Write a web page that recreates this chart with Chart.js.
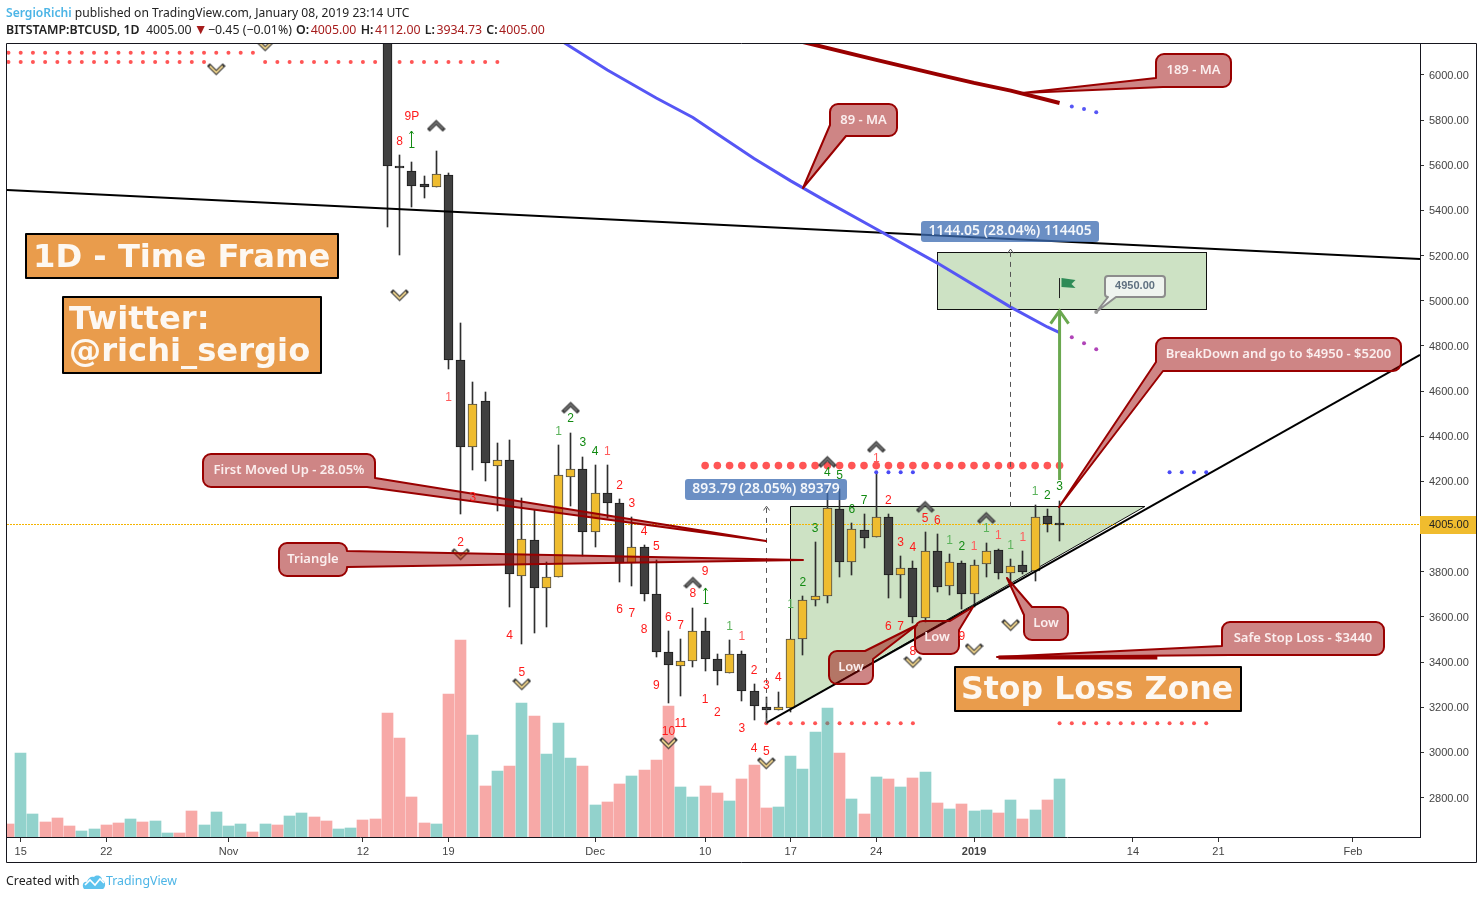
<!DOCTYPE html>
<html>
<head>
<meta charset="utf-8">
<title>BTCUSD 1D</title>
<script src="https://cdn.jsdelivr.net/npm/chart.js@4/dist/chart.umd.min.js"></script>
<style>
    html, body { margin: 0; padding: 0; background: #fff; }
    body { width: 1483px; height: 899px; position: relative; overflow: hidden; }
    canvas { position: absolute; left: 0; top: 0; }
    .txt { position: absolute; left: 6px; white-space: nowrap; font-family: "Noto Sans", sans-serif; font-size: 12.1px; color: #222; line-height: 16px; }
    .big { font-size: 12.35px; }
    .blue { color: #4db5e6; }
    .red { color: #a61c1c; }
    .tri { font-size: 14px; line-height: 12px; margin-left: -1px; margin-right: -3px; }
    .ohlc b { padding-right: 1.5px; margin-left: 1px; }
    b { font-weight: 600; }
</style>
</head>
<body>
<canvas id="myChart" width="1483" height="899"></canvas>
<div class="txt" style="top:5px"><b class="blue">SergioRichi</b> published on TradingView.com, January 08, 2019 23:14 UTC</div>
<div class="txt big" style="top:22px"><b>BITSTAMP:BTCUSD, 1D</b>&nbsp; 4005.00 <span class="red tri">▼</span> −0.45 (−0.01%) <span class="ohlc"><b>O:</b><span class="red">4005.00</span> <b>H:</b><span class="red">4112.00</span> <b>L:</b><span class="red">3934.73</span> <b>C:</b><span class="red">4005.00</span></span></div>
<div class="txt big" style="top:873px">Created with</div>
<svg style="position:absolute;left:82px;top:873px" width="24" height="17" viewBox="0 0 24 17">
    <path d="M2 16 C-1 12 2 8 5 9 C6 5 9 3 12 4 C15 1 20 3 20 7 C24 8 24 14 21 16 Z" fill="#5ec3ee"/>
    <path d="M3 12 L8 7 L13 12 L18 6 L22 10" fill="none" stroke="#fff" stroke-width="1.6"/>
</svg>
<div class="txt big blue" style="left:106px;top:873px">TradingView</div>
<script>
// days are counted from Oct 15 2018, prices in USD
const xTickDays = [0, 7, 17, 28, 35, 47, 56, 63, 70, 78, 91, 98, 109];
const xTickLabels = ['15', '22', 'Nov', '12', '19', 'Dec', '10', '17', '24', '2019', '14', '21', 'Feb'];
const yTicks = [2800, 3000, 3200, 3400, 3600, 3800, 4000, 4200, 4400, 4600, 4800, 5000, 5200, 5400, 5600, 5800, 6000];

const candleDays = [30, 31, 32, 33, 34, 35, 36, 37, 38, 39, 40, 41, 42, 43, 44, 45, 46, 47, 48, 49, 50, 51, 52, 53, 54, 55, 56, 57, 58, 59, 60, 61, 62, 63, 64, 65, 66, 67, 68, 69, 70, 71, 72, 73, 74, 75, 76, 77, 78, 79, 80, 81, 82, 83, 84, 85];
const opens = [6300, 5597, 5573, 5517, 5505, 5556, 4736, 4354, 4556, 4270, 4294, 3782, 3939, 3729, 3775, 4221, 4254, 3975, 4147, 4103, 3837, 3908, 3700, 3443, 3381, 3403, 3537, 3412, 3350, 3434, 3270, 3200, 3186, 3198, 3503, 3673, 3691, 4077, 3844, 3983, 3953, 4041, 3784, 3815, 3594, 3890, 3735, 3837, 3700, 3833, 3895, 3793, 3828, 3802, 4045, 4005];
const highs = [6350, 5646, 5615, 5553, 5663, 5567, 4902, 4640, 4596, 4370, 4383, 4127, 4073, 3842, 4361, 4414, 4308, 4273, 4273, 4122, 4041, 3917, 3851, 3537, 3502, 3639, 3595, 3434, 3498, 3448, 3301, 3247, 3266, 3501, 3693, 3932, 4175, 4166, 4015, 4056, 4243, 4056, 3870, 3848, 3976, 3967, 3877, 3846, 3851, 3926, 3901, 3855, 3890, 4096, 4078, 4112];
const lows = [5328, 5204, 5417, 5457, 5505, 4699, 4056, 4251, 4203, 4070, 3645, 3481, 3530, 3557, 3775, 4091, 3871, 3911, 4039, 3756, 3738, 3672, 3424, 3220, 3251, 3379, 3362, 3300, 3350, 3229, 3145, 3130, 3186, 3180, 3431, 3648, 3663, 3778, 3787, 3906, 3953, 3685, 3685, 3574, 3577, 3712, 3698, 3636, 3645, 3778, 3769, 3750, 3789, 3760, 3975, 3934.73];
const closes = [5598, 5588, 5510, 5505, 5560, 4739, 4354, 4543, 4280, 4294, 3791, 3944, 3729, 3775, 4227, 4254, 3975, 4147, 4106, 3840, 3908, 3700, 3443, 3386, 3403, 3537, 3412, 3359, 3434, 3270, 3204, 3186, 3200, 3501, 3673, 3691, 4081, 3844, 3988, 3948, 4041, 3784, 3815, 3598, 3890, 3731, 3842, 3700, 3828, 3890, 3793, 3824, 3797, 4044, 4010, 4005];

// volume has no axis on the chart, so the unit is arbitrary. first entry is day -1
const volumes = [13, 84, 23, 15, 19, 11, 6, 8, 12, 14, 18, 15, 16, 4, 4, 26, 12, 25, 11, 13, 5, 13, 12, 21, 24, 20, 16, 8, 9, 17, 18, 124, 99, 40, 14, 13, 143, 197, 102, 51, 66, 71, 134, 121, 83, 114, 79, 71, 32, 35, 53, 61, 67, 77, 131, 50, 40, 51, 44, 36, 58, 72, 29, 30, 81, 68, 105, 129, 84, 38, 23, 60, 58, 50, 59, 65, 34, 28, 33, 26, 27, 24, 37, 18, 27, 37, 58];
const volumeUp = [0, 1, 1, 0, 0, 0, 1, 1, 0, 0, 1, 0, 1, 1, 0, 0, 1, 1, 1, 1, 0, 1, 0, 1, 1, 0, 0, 1, 1, 0, 0, 0, 0, 0, 0, 1, 0, 0, 1, 0, 1, 0, 1, 0, 1, 1, 1, 0, 1, 0, 0, 1, 0, 0, 0, 1, 1, 0, 0, 1, 0, 0, 0, 1, 1, 1, 1, 1, 0, 1, 0, 1, 0, 1, 0, 1, 0, 1, 0, 1, 1, 0, 1, 0, 1, 0, 1];

const ma89Days = [44, 48, 50, 52, 55, 57, 60, 63, 66, 70, 75, 81, 84, 85];
const ma89 = [6159, 6022, 5960, 5898, 5812, 5739, 5630, 5531, 5438, 5318, 5167, 4972, 4884, 4859];
const ma189Days = [64, 70, 75, 78, 81, 85];
const ma189 = [6146, 6067, 6003, 5965, 5931, 5876];
const ma189NextDays = [86, 87, 88];
const ma189Next = [5860, 5849, 5835];
const ma89NextDays = [86, 87, 88];
const ma89Next = [4838, 4812, 4785];

const resistanceDays = [-1.12, 114.49];
const resistance = [5491, 5185];
const supportDays = [61, 114.49];
const support = [3130, 4760];
const stopDays = [80, 93];
const stop = [3420, 3420];

const dotsTopDays = [-1, 0, 1, 2, 3, 4, 5, 6, 7, 8, 9, 10, 11, 12, 13, 14, 15, 16, 17, 18, 19];
const dotsSecondDays = [-1, 0, 1, 2, 3, 4, 5, 6, 7, 8, 9, 10, 11, 12, 13, 14, 15, 20, 21, 22, 23, 24, 25, 26, 27, 28, 29, 31, 32, 33, 34, 35, 36, 37, 38, 39];
const dotsLowDays = [61, 62, 63, 64, 65, 66, 67, 68, 69, 70, 71, 72, 73, 85, 86, 87, 88, 89, 90, 91, 92, 93, 94, 95, 96, 97];
const dotsBigDays = [56, 57, 58, 59, 60, 61, 62, 63, 64, 65, 66, 67, 68, 69, 70, 71, 72, 73, 74, 75, 76, 77, 78, 79, 80, 81, 82, 83, 84, 85];
const dotsBlueDays = [70, 71, 72, 73, 94, 95, 96, 97];

const chevronUpDays = [34, 45, 55, 66, 70, 74, 79];
const chevronUp = [5779, 4530, 3755, 4290, 4357, 4091, 4042];
const chevronDownDays = [16, 20, 31, 36, 41, 53, 61, 73, 78, 81];
const chevronDown = [6022, 6128, 5021, 3874, 3298, 3037, 2948, 3396, 3453, 3560];

// day, price, text, kind
const tdLabels = [
    [32, 5814, '9P', 'sell'], [31, 5703, '8', 'sell'], [35, 4569, '1', 'sellPale'], [37, 4127, '3', 'sell'],
    [36, 3927, '2', 'sell'], [40, 3515, '4', 'sell'], [41, 3351, '5', 'sell'],
    [44, 4419, '1', 'buyPale'], [45, 4476, '2', 'buy'], [46, 4370, '3', 'buy'], [47, 4330, '4', 'buy'],
    [48, 4330, '1', 'sellPale'], [49, 4180, '2', 'sell'], [50, 4100, '3', 'sell'], [51, 3976, '4', 'sell'], [52, 3910, '5', 'sell'],
    [49, 3630, '6', 'sell'], [50, 3613, '7', 'sell'], [51, 3542, '8', 'sell'], [52, 3294, '9', 'sell'],
    [53, 3090, '10', 'sell'], [54, 3126, '11', 'sell'], [53, 3595, '6', 'sell'], [54, 3560, '7', 'sell'],
    [55, 3701, '8', 'sell'], [56, 3799, '9', 'sell'], [56, 3232, '1', 'sell'], [57, 3174, '2', 'sell'],
    [59, 3103, '3', 'sell'], [60, 3015, '4', 'sell'], [61, 3002, '5', 'sell'], [58, 3555, '1', 'buyPale'],
    [59, 3511, '1', 'sellPale'], [60, 3360, '2', 'sell'], [61, 3294, '3', 'sell'], [62, 3329, '4', 'sell'],
    [63, 3653, '1', 'buyPale'], [64, 3750, '2', 'buy'], [65, 3989, '3', 'buy'], [66, 4237, '4', 'buy'],
    [67, 4224, '5', 'buy'], [68, 4073, '6', 'buy'], [69, 4113, '7', 'buy'], [70, 4299, '1', 'sellPale'],
    [71, 4113, '2', 'sell'], [72, 3927, '3', 'sell'], [73, 3905, '4', 'sell'], [74, 4034, '5', 'sell'],
    [75, 4025, '6', 'sell'], [76, 3936, '1', 'buyPale'], [77, 3910, '2', 'buy'], [78, 3910, '1', 'sellPale'],
    [79, 3989, '1', 'buyPale'], [80, 3958, '1', 'sellPale'], [81, 3914, '1', 'buyPale'], [82, 3949, '1', 'sellPale'],
    [83, 4153, '1', 'buyPale'], [84, 4135, '2', 'buy'], [85, 4175, '3', 'buy'],
    [71, 3555, '6', 'sell'], [72, 3555, '7', 'sell'], [73, 3444, '8', 'sell'], [77, 3511, '9', 'sell']
];
const tdColors = { sell: '#ff1a1a', sellPale: '#ff5c5c', buy: '#128a12', buyPale: '#5cb35c' };

// day, bottom price, top price
const smallArrows = [[32, 5681, 5752], [56, 3661, 3728]];

// callout boxes sit where they were placed on the page, tips point at the chart
const callouts = [
    { text: '189 - MA', box: [1156, 54, 1231, 87], edge: 'bl', from: [1163, 87], to: [1156, 78], tip: [1022, 93] },
    { text: '89 - MA', box: [830, 104, 897, 136], edge: 'bl', from: [846, 136], to: [830, 125], tip: [803, 188] },
    { text: 'First Moved Up - 28.05%', box: [203, 454, 375, 487], edge: 'br', from: [375, 478], to: [367, 487], tip: [766, 541] },
    { text: 'Triangle', box: [279, 543, 347, 576], edge: 'right', from: [347, 551], to: [347, 567], tip: [803, 560] },
    { text: 'BreakDown and go to $4950 - $5200', box: [1156, 338, 1401, 371], edge: 'bl', from: [1163, 371], to: [1156, 362], tip: [1059, 507] },
    { text: 'Safe Stop Loss - $3440', box: [1222, 622, 1384, 655], edge: 'bl', from: [1230, 655], to: [1222, 646], tip: [997, 657] },
    { text: 'Low', box: [829, 651, 873, 684], edge: 'tr', from: [865, 651], to: [873, 659], tip: [917, 625] },
    { text: 'Low', box: [915, 621, 959, 654], edge: 'tr', from: [950, 621], to: [959, 630], tip: [973, 607] },
    { text: 'Low', box: [1024, 607, 1068, 640], edge: 'tl', from: [1024, 615], to: [1032, 607], tip: [1007, 578] }
];

function makeChevron(up) {
    const c = document.createElement('canvas');
    c.width = 19;
    c.height = 15;
    const g = c.getContext('2d');
    const path = up ? [[3, 11.5], [9.5, 5], [16, 11.5]] : [[3, 3.5], [9.5, 10], [16, 3.5]];
    [[up ? '#3a3a3a' : '#2e2e2e', 4], [up ? '#6e6e6e' : '#f6da90', 1.8]].forEach(([color, w], k) => {
        g.beginPath();
        path.forEach((p, i) => i ? g.lineTo(p[0], p[1]) : g.moveTo(p[0], p[1]));
        g.strokeStyle = color;
        g.lineWidth = w;
        g.lineJoin = 'miter';
        g.lineCap = k ? 'butt' : 'square';
        g.stroke();
    });
    return c;
}

function points(days, values) {
    return days.map((d, i) => ({ x: d, y: values[i] }));
}
function level(days, price) {
    return days.map(d => ({ x: d, y: price }));
}
function lineSet(data, color, width, order) {
    return { type: 'line', data: data, borderColor: color, borderWidth: width, pointRadius: 0, tension: 0, order: order, yAxisID: 'y' };
}
function dotSet(data, color, radius, order) {
    return { type: 'line', data: data, showLine: false, pointRadius: radius, pointBackgroundColor: color, pointBorderWidth: 0, order: order, yAxisID: 'y' };
}
function markSet(data, image, order) {
    return { type: 'line', data: data, showLine: false, pointStyle: image, pointRadius: 8, order: order, yAxisID: 'y' };
}

const isUp = candleDays.map((d, i) => closes[i] > opens[i]);

const datasets = [
    dotSet(level(dotsTopDays, 6099), '#ff5555', 2, 60),
    dotSet(level(dotsSecondDays, 6058), '#ff5555', 2, 60),
    dotSet(level(dotsLowDays, 3129), '#ff5555', 2, 60),
    {
        type: 'bar', yAxisID: 'vol', order: 50,
        data: volumes.map((v, i) => ({ x: i - 1, y: v })),
        backgroundColor: volumeUp.map(u => u ? 'rgba(38,166,154,0.5)' : 'rgba(239,83,80,0.5)'),
        grouped: false, barPercentage: 1, categoryPercentage: 1, maxBarThickness: 11
    },
    {
        type: 'bar', yAxisID: 'y', order: 41,
        data: candleDays.map((d, i) => ({ x: d, y: [lows[i], highs[i]] })),
        backgroundColor: '#2e2e2e',
        grouped: false, barPercentage: 1, categoryPercentage: 1, maxBarThickness: 1
    },
    {
        type: 'bar', yAxisID: 'y', order: 40,
        data: candleDays.map((d, i) => ({ x: d, y: [opens[i], closes[i]] })),
        backgroundColor: isUp.map(u => u ? '#efbc2f' : '#404040'),
        borderColor: isUp.map(u => u ? '#4a4a4a' : '#1c1c1c'),
        borderWidth: 1, borderSkipped: false, minBarLength: 2,
        grouped: false, barPercentage: 1, categoryPercentage: 1, maxBarThickness: 9
    },
    lineSet(points(resistanceDays, resistance), '#000', 2, 30),
    lineSet(points(supportDays, support), '#000', 2, 30),
    lineSet(points(ma89Days, ma89), '#5656f5', 3, 29),
    lineSet(points(ma189Days, ma189), '#990000', 4, 29),
    lineSet(points(stopDays, stop), '#990000', 4, 29),
    dotSet(points(ma189NextDays, ma189Next), '#5656f5', 2, 28),
    dotSet(points(ma89NextDays, ma89Next), '#b044b8', 2, 28),
    dotSet(level(dotsBlueDays, 4240), '#4a4af5', 2, 28),
    dotSet(level(dotsBigDays, 4270), '#ff5555', 3.8, 28),
    markSet(points(chevronUpDays, chevronUp), makeChevron(true), 27),
    markSet(points(chevronDownDays, chevronDown), makeChevron(false), 27)
];

function roundRect(ctx, l, t, r, b, radius) {
    ctx.beginPath();
    ctx.moveTo(l + radius, t);
    ctx.arcTo(r, t, r, b, radius);
    ctx.arcTo(r, b, l, b, radius);
    ctx.arcTo(l, b, l, t, radius);
    ctx.arcTo(l, t, r, t, radius);
    ctx.closePath();
}

function calloutPath(ctx, c) {
    const [l, t, r, b] = c.box;
    const R = 8;
    const wedge = () => {
        ctx.lineTo(c.from[0], c.from[1]);
        ctx.lineTo(c.tip[0], c.tip[1]);
        ctx.lineTo(c.to[0], c.to[1]);
    };
    ctx.beginPath();
    ctx.moveTo(l + R, t);
    if (c.edge === 'tr') wedge(); else ctx.arcTo(r, t, r, t + R, R);
    if (c.edge === 'right') wedge();
    if (c.edge === 'br') wedge(); else ctx.arcTo(r, b, r - R, b, R);
    if (c.edge === 'bl') wedge(); else ctx.arcTo(l, b, l, b - R, R);
    if (c.edge === 'tl') wedge(); else ctx.arcTo(l, t, l + R, t, R);
    ctx.closePath();
}

function drawCallouts(ctx) {
    callouts.forEach(c => {
        calloutPath(ctx, c);
        ctx.fillStyle = 'rgba(153,0,0,0.48)';
        ctx.fill();
        ctx.strokeStyle = '#990000';
        ctx.lineWidth = 2;
        ctx.lineJoin = 'round';
        ctx.stroke();
        ctx.fillStyle = '#fbeeee';
        ctx.font = '600 13px "Noto Sans"';
        ctx.textAlign = 'center';
        ctx.textBaseline = 'middle';
        ctx.fillText(c.text, (c.box[0] + c.box[2]) / 2, (c.box[1] + c.box[3]) / 2);
    });
}

function drawOrangeBox(ctx, l, t, r, b, size, lines) {
    ctx.fillStyle = '#e99c4c';
    ctx.fillRect(l, t, r - l, b - t);
    ctx.strokeStyle = '#000';
    ctx.lineWidth = 2;
    ctx.strokeRect(l, t, r - l, b - t);
    ctx.fillStyle = '#fdf8f2';
    ctx.font = 'bold ' + size + 'px "DejaVu Sans"';
    ctx.textAlign = 'left';
    ctx.textBaseline = 'alphabetic';
    lines.forEach(line => ctx.fillText(line[0], line[1], line[2]));
}

function drawPill(ctx, l, t, r, b, text) {
    roundRect(ctx, l, t, r, b, 3);
    ctx.fillStyle = 'rgba(60,108,178,0.76)';
    ctx.fill();
    ctx.fillStyle = '#f4f7fb';
    ctx.font = '600 13.9px "Noto Sans"';
    ctx.textAlign = 'center';
    ctx.textBaseline = 'middle';
    ctx.fillText(text, (l + r) / 2, (t + b) / 2);
}

function upArrowHead(ctx, x, y, size) {
    ctx.beginPath();
    ctx.moveTo(x - size, y + size * 1.4);
    ctx.lineTo(x, y);
    ctx.lineTo(x + size, y + size * 1.4);
    ctx.stroke();
}

function crisp(v) {
    return Math.floor(v) + 0.5;
}

const pixelBars = {
    id: 'pixelBars',
    afterDatasetsUpdate(chart) {
        chart.getSortedVisibleDatasetMetas().forEach(meta => {
            if (meta.type !== 'bar') return;
            meta.data.forEach(bar => {
                bar.x = crisp(bar.x);
                bar.y = Math.round(bar.y);
                bar.base = Math.round(bar.base);
            });
        });
    }
};

const drawings = {
    id: 'drawings',
    beforeDatasetsDraw(chart) {
        const ctx = chart.ctx;
        const X = v => chart.scales.x.getPixelForValue(v);
        const Y = v => chart.scales.y.getPixelForValue(v);
        ctx.save();
        // target zone
        ctx.fillStyle = '#cde2c4';
        ctx.fillRect(X(75), Y(5212), X(97) - X(75), Y(4959) - Y(5212));
        ctx.strokeStyle = '#111';
        ctx.lineWidth = 1;
        ctx.strokeRect(crisp(X(75)), crisp(Y(5212)), Math.round(X(97) - X(75)), Math.round(Y(4959) - Y(5212)));
        // triangle
        ctx.beginPath();
        ctx.moveTo(crisp(X(62.95)), crisp(Y(4087)));
        ctx.lineTo(X(91.98), crisp(Y(4087)));
        ctx.lineTo(crisp(X(62.95)), Y(3190));
        ctx.closePath();
        ctx.fillStyle = '#cde2c4';
        ctx.fill();
        ctx.strokeStyle = '#111';
        ctx.stroke();
        // last price line
        ctx.strokeStyle = '#f5b400';
        ctx.setLineDash([2, 1]);
        ctx.beginPath();
        ctx.moveTo(chart.chartArea.left, Math.round(Y(4005)) - 0.5);
        ctx.lineTo(chart.chartArea.right, Math.round(Y(4005)) - 0.5);
        ctx.stroke();
        ctx.restore();
    },
    afterDatasetsDraw(chart) {
        const ctx = chart.ctx;
        const X = v => chart.scales.x.getPixelForValue(v);
        const Y = v => chart.scales.y.getPixelForValue(v);
        ctx.save();

        // measure lines
        [[81, 4087, 5229], [61, 3130, 4090]].forEach(([d, low, high]) => {
            ctx.strokeStyle = '#555';
            ctx.lineWidth = 1;
            ctx.setLineDash([5, 5]);
            ctx.beginPath();
            ctx.moveTo(crisp(X(d)), Y(low));
            ctx.lineTo(crisp(X(d)), Y(high));
            ctx.stroke();
            ctx.setLineDash([]);
            upArrowHead(ctx, crisp(X(d)), Y(high), 3);
        });

        // green projection arrow
        ctx.strokeStyle = '#6aa84f';
        ctx.lineWidth = 3;
        ctx.beginPath();
        ctx.moveTo(X(85), Y(4206));
        ctx.lineTo(X(85), Y(4955));
        ctx.stroke();
        upArrowHead(ctx, X(85), Y(4955), 9);

        // flag
        const fx = crisp(X(85));
        const fy = Y(5012);
        ctx.strokeStyle = '#222';
        ctx.lineWidth = 1;
        ctx.beginPath();
        ctx.moveTo(fx, fy);
        ctx.lineTo(fx, fy - 20);
        ctx.stroke();
        ctx.fillStyle = '#2e8b57';
        ctx.beginPath();
        ctx.moveTo(fx + 2, fy - 20);
        ctx.lineTo(fx + 16, fy - 18);
        ctx.lineTo(fx + 12, fy - 14);
        ctx.lineTo(fx + 16, fy - 10);
        ctx.lineTo(fx + 2, fy - 11);
        ctx.closePath();
        ctx.fill();

        // small arrows
        ctx.strokeStyle = '#128a12';
        ctx.lineWidth = 1;
        smallArrows.forEach(([d, low, high]) => {
            const x = crisp(X(d));
            ctx.beginPath();
            ctx.moveTo(x, Y(low));
            ctx.lineTo(x, Y(high));
            ctx.moveTo(x - 2, Math.round(Y(low)) + 0.5);
            ctx.lineTo(x + 3, Math.round(Y(low)) + 0.5);
            ctx.stroke();
            upArrowHead(ctx, x, Y(high), 2);
        });

        drawCallouts(ctx);

        // sequence numbers
        ctx.font = '12px "Liberation Sans"';
        ctx.textAlign = 'center';
        ctx.textBaseline = 'middle';
        tdLabels.forEach(([d, p, text, kind]) => {
            ctx.fillStyle = tdColors[kind];
            ctx.fillText(text, X(d), Y(p));
        });

        // measure labels
        drawPill(ctx, 921, 221, 1099, 242, '1144.05 (28.04%) 114405');
        drawPill(ctx, 685, 479, 847, 500, '893.79 (28.05%) 89379');

        // target price note
        const noteX = X(88);
        const noteY = Y(4950);
        ctx.beginPath();
        ctx.moveTo(1109, 276);
        ctx.lineTo(1162, 276);
        ctx.arcTo(1165, 276, 1165, 279, 3);
        ctx.lineTo(1165, 294);
        ctx.arcTo(1165, 297, 1162, 297, 3);
        ctx.lineTo(1116, 297);
        ctx.lineTo(noteX, noteY);
        ctx.lineTo(1108, 297);
        ctx.arcTo(1105, 297, 1105, 294, 3);
        ctx.lineTo(1105, 279);
        ctx.arcTo(1105, 276, 1109, 276, 3);
        ctx.closePath();
        ctx.fillStyle = '#eff4ef';
        ctx.fill();
        ctx.strokeStyle = '#8c8c8c';
        ctx.lineWidth = 2;
        ctx.stroke();
        ctx.fillStyle = '#999';
        ctx.beginPath();
        ctx.arc(noteX, noteY, 2, 0, Math.PI * 2);
        ctx.fill();
        ctx.fillStyle = '#5f7080';
        ctx.font = 'bold 11px "Liberation Sans"';
        ctx.fillText('4950.00', 1135, 286);

        drawOrangeBox(ctx, 26, 234, 338, 278, 32.2, [['1D - Time Frame', 33, 267]]);
        drawOrangeBox(ctx, 63, 297, 321, 373, 32.2, [['Twitter:', 69, 329], ['@richi_sergio', 69, 361]]);
        drawOrangeBox(ctx, 955, 667, 1241, 711, 31.6, [['Stop Loss Zone', 961, 699]]);

        // last price tag
        const tagY = Math.round(Y(4005)) - 1;
        ctx.fillStyle = '#f0bc2e';
        ctx.fillRect(1420, tagY - 8, 56, 18);
        ctx.fillStyle = '#222';
        ctx.font = '11px "Liberation Sans"';
        ctx.textAlign = 'left';
        ctx.textBaseline = 'middle';
        ctx.fillText('4005.00', 1429, tagY + 1);

        // outer frame
        ctx.strokeStyle = '#16161e';
        ctx.lineWidth = 1;
        ctx.strokeRect(6.5, 43.5, 1470, 819);
        ctx.restore();
    }
};

new Chart(document.getElementById('myChart').getContext('2d'), {
    type: 'bar',
    data: { datasets: datasets },
    plugins: [pixelBars, drawings],
    options: {
        responsive: false,
        animation: false,
        events: [],
        layout: { autoPadding: false, padding: { left: 7, top: 44 } },
        plugins: { legend: { display: false }, tooltip: { enabled: false } },
        scales: {
            x: {
                type: 'linear',
                min: -1.12,
                max: 114.49,
                offset: false,
                afterFit(scale) { scale.height = 62; },
                afterBuildTicks(scale) { scale.ticks = xTickDays.map(v => ({ value: v })); },
                border: { color: '#16161e' },
                grid: { drawOnChartArea: false, offset: false, tickLength: 5, color: '#333' },
                ticks: {
                    autoSkip: false,
                    maxRotation: 0,
                    padding: 3,
                    color: '#444',
                    font: ctx => ({ family: '"Liberation Sans"', size: 11, weight: ctx.index === 9 ? 'bold' : 'normal' }),
                    callback: (v, i) => xTickLabels[i]
                }
            },
            y: {
                position: 'right',
                min: 2625,
                max: 6137.3,
                afterFit(scale) { scale.width = 63; },
                afterBuildTicks(scale) { scale.ticks = yTicks.map(v => ({ value: v })); },
                border: { color: '#16161e' },
                grid: { drawOnChartArea: false, tickLength: 4, color: '#333' },
                ticks: {
                    padding: 5,
                    labelOffset: 1,
                    color: '#444',
                    font: { family: '"Liberation Sans"', size: 11 },
                    callback: v => v.toFixed(2)
                }
            },
            vol: { display: false, min: 0, max: 793 }
        }
    }
});
</script>
</body>
</html>
